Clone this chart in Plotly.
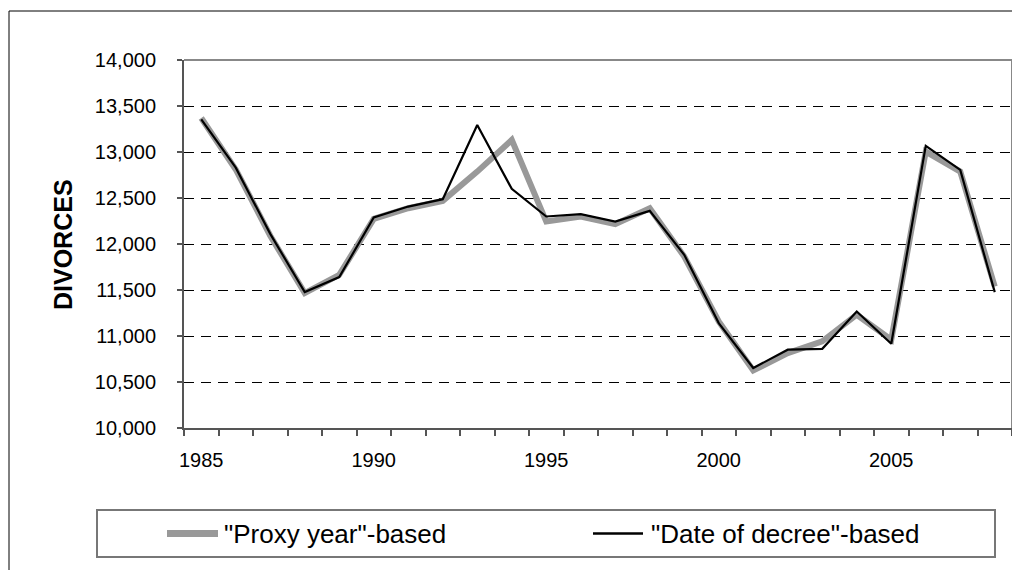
import plotly.graph_objects as go

years = list(range(1985, 2009))
proxy_year = [13370, 12810, 12090, 11466, 11665, 12273, 12389, 12469, 12787, 13131,
              12244, 12299, 12215, 12389, 11864, 11158, 10626, 10814, 10941, 11231,
              10959, 13005, 12787, 11538]
date_decree = [13355, 12830, 12110, 11477, 11640, 12288, 12407, 12487, 13294, 12599,
               12299, 12324, 12244, 12360, 11882, 11140, 10652, 10851, 10861, 11267,
               10916, 13066, 12805, 11477]
x_tick_years = [1985, 1990, 1995, 2000, 2005]
series_names = ['"Proxy year"-based', '"Date of decree"-based']
y_title = "DIVORCES"

FONT = "Liberation Sans, Arial, sans-serif"
GRAY = "#999999"

# page has an 8px body margin; figure is 1012x562 placed at (8, 8)
OFF = 8
FW, FH = 1012, 562
# plot area in page pixels: 184..1012 x 60..428
L, R, T, B = 184, 1012, 60, 428
W, H = R - L, B - T
def px(xp):
    return (xp - L) / W
def py(yp):
    return (B - yp) / H

fig = go.Figure()
fig.add_trace(go.Scatter(x=years, y=proxy_year, mode="lines", name=series_names[0],
                         line=dict(color=GRAY, width=6), showlegend=False))
fig.add_trace(go.Scatter(x=years, y=date_decree, mode="lines", name=series_names[1],
                         line=dict(color="black", width=2.2), showlegend=False))

fig.update_layout(
    width=FW, height=FH,
    margin=dict(l=L - OFF, r=FW - (R - OFF), t=T - OFF, b=FH - (B - OFF), pad=0),
    paper_bgcolor="white", plot_bgcolor="white",
    font=dict(family=FONT, size=20, color="black"),
    showlegend=False,
)
fig.update_xaxes(
    range=[1984.5, 2008.5], tickvals=x_tick_years, ticktext=[str(v) for v in x_tick_years],
    ticks="", showgrid=False, zeroline=False,
    showline=True, linecolor="#555555", linewidth=2,
    ticklabelstandoff=13,
    minor=dict(tickvals=[y - 0.5 for y in years] + [2008.5], ticks="outside",
               ticklen=6, tickcolor="#555555", tickwidth=1.5, showgrid=False),
    tickfont=dict(size=20),
)
fig.update_yaxes(
    range=[10000, 14000], dtick=500, tick0=10000, tickformat=",",
    ticks="outside", ticklen=5, tickcolor="#555555", tickwidth=1.5,
    showgrid=True, gridcolor="black", gridwidth=1, griddash="10px,7px",
    zeroline=False, showline=True, linecolor="#555555", linewidth=2,
    ticklabelstandoff=17, tickfont=dict(size=20),
)

shapes = []
# top/right plot border
shapes.append(dict(type="line", xref="paper", yref="paper", x0=0, x1=1, y0=1, y1=1,
                   line=dict(color="#888888", width=2), layer="above"))
shapes.append(dict(type="line", xref="paper", yref="paper", x0=1, x1=1, y0=0, y1=1,
                   line=dict(color="#888888", width=2), layer="above"))
# outer chart frame
shapes.append(dict(type="rect", xref="paper", yref="paper", x0=px(9), x1=px(1030),
                   y0=py(580), y1=py(11), line=dict(color="black", width=1),
                   fillcolor="rgba(0,0,0,0)", layer="above"))
# legend box
shapes.append(dict(type="rect", xref="paper", yref="paper", x0=px(97), x1=px(995),
                   y0=py(557), y1=py(510), line=dict(color="#777777", width=2),
                   fillcolor="rgba(0,0,0,0)", layer="above"))
ly = py(533.5)
shapes.append(dict(type="line", xref="paper", yref="paper", x0=px(167), x1=px(218),
                   y0=ly, y1=ly, line=dict(color=GRAY, width=7), layer="above"))
shapes.append(dict(type="line", xref="paper", yref="paper", x0=px(593), x1=px(643),
                   y0=ly, y1=ly, line=dict(color="black", width=2.5), layer="above"))
fig.update_layout(shapes=shapes)

annotations = [
    dict(text=series_names[0], xref="paper", yref="paper", x=px(222), y=ly,
         xanchor="left", yanchor="middle", showarrow=False, font=dict(size=26)),
    dict(text=series_names[1], xref="paper", yref="paper", x=px(649), y=ly,
         xanchor="left", yanchor="middle", showarrow=False, font=dict(size=26)),
    dict(text="<b>" + y_title + "</b>", xref="paper", yref="paper", x=px(63), y=0.5,
         xanchor="center", yanchor="middle", textangle=-90, showarrow=False,
         font=dict(size=25)),
]
fig.update_layout(annotations=annotations)

fig.write_html("out.html")
